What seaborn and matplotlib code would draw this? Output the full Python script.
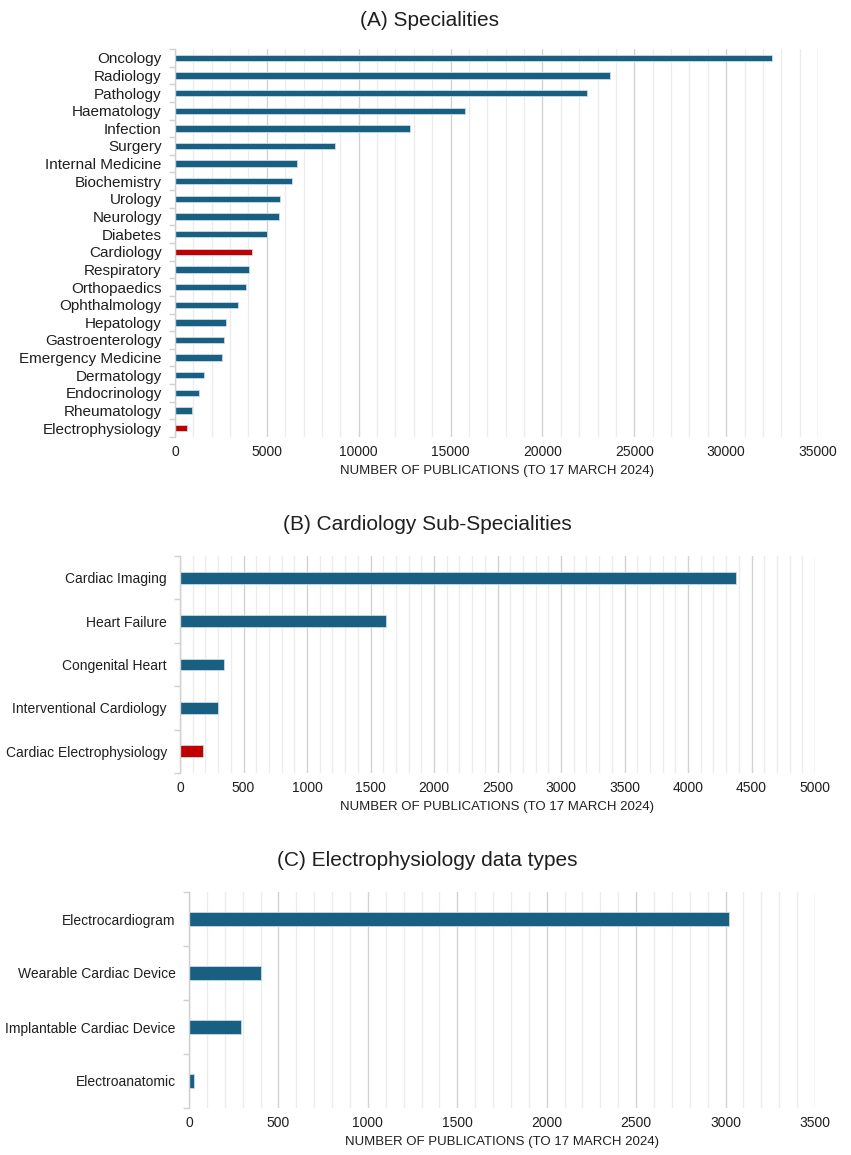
import matplotlib
matplotlib.use("Agg")
import matplotlib.pyplot as plt
import seaborn as sns
import pandas as pd
from matplotlib.ticker import MultipleLocator, FixedLocator

# ---------------- data ----------------
spec_names = ["Oncology", "Radiology", "Pathology", "Haematology", "Infection", "Surgery",
              "Internal Medicine", "Biochemistry", "Urology", "Neurology", "Diabetes",
              "Cardiology", "Respiratory", "Orthopaedics", "Ophthalmology", "Hepatology",
              "Gastroenterology", "Emergency Medicine", "Dermatology", "Endocrinology",
              "Rheumatology", "Electrophysiology"]
spec_values = [32500, 23700, 22400, 15800, 12800, 8700, 6650, 6350, 5740, 5670, 5020,
               4180, 4050, 3850, 3420, 2760, 2650, 2560, 1560, 1330, 910, 670]
spec_highlight = ["Cardiology", "Electrophysiology"]

sub_names = ["Cardiac Imaging", "Heart Failure", "Congenital Heart",
             "Interventional Cardiology", "Cardiac Electrophysiology"]
sub_values = [4380, 1620, 345, 297, 181]
sub_highlight = ["Cardiac Electrophysiology"]

ep_names = ["Electrocardiogram", "Wearable Cardiac Device", "Implantable Cardiac Device",
            "Electroanatomic"]
ep_values = [3020, 405, 293, 30]
ep_highlight = []

titles = ["(A) Specialities", "(B) Cardiology Sub-Specialities", "(C) Electrophysiology data types"]
xlabel = "NUMBER OF PUBLICATIONS (TO 17 MARCH 2024)"

BLUE = "#185f81"
RED = "#c00000"
TXT = "#1f1f1f"

sns.set_theme(style="white")
plt.rcParams["font.family"] = ["Liberation Sans", "DejaVu Sans"]

W, H = 851, 1155
fig = plt.figure(figsize=(W / 100, H / 100), dpi=100)


def px_axes(l, t, r, b):
    return fig.add_axes([l / W, 1 - b / H, (r - l) / W, (b - t) / H])


def panel(ax, names, values, red, xmax, major, minor, bar_w, label_fs):
    df = pd.DataFrame({"name": names, "value": values})
    pal = {n: (RED if n in red else BLUE) for n in names}
    sns.barplot(data=df, y="name", x="value", hue="name", palette=pal, legend=False,
                orient="h", width=bar_w, ax=ax, edgecolor="#c9dbe6", linewidth=0.6,
                saturation=1)
    n = len(names)
    ax.set_xlim(0, xmax)
    ax.set_ylim(n - 0.5, -0.5)
    ax.xaxis.set_major_locator(MultipleLocator(major))
    ax.xaxis.set_minor_locator(MultipleLocator(minor))
    ax.grid(axis="x", which="major", color="#d2d2d2", lw=1.0)
    ax.grid(axis="x", which="minor", color="#ececec", lw=1.0)
    ax.grid(axis="y", visible=False)
    ax.set_axisbelow(True)
    ax.yaxis.set_minor_locator(FixedLocator([i - 0.5 for i in range(n + 1)]))
    ax.tick_params(axis="y", which="minor", length=4, width=1, color="#d0d0d0", left=True)
    ax.tick_params(axis="y", which="major", length=0, pad=9.5, labelsize=label_fs,
                   labelcolor=TXT)
    ax.tick_params(axis="x", which="both", length=0, pad=6, labelsize=10, labelcolor=TXT)
    for s in ["top", "right", "bottom"]:
        ax.spines[s].set_visible(False)
    ax.spines["left"].set_color("#d0d0d0")
    ax.spines["left"].set_linewidth(1.0)
    ax.set_ylabel("")
    ax.set_xlabel(xlabel, fontsize=9.5, color=TXT, labelpad=4)


axA = px_axes(175, 49, 818, 437)
panel(axA, spec_names, spec_values, spec_highlight, 35000, 5000, 1000, 0.36, 11)
axB = px_axes(180, 556, 815, 773)
panel(axB, sub_names, sub_values, sub_highlight, 5000, 500, 100, 0.27, 10)
axC = px_axes(189, 892, 815, 1108)
panel(axC, ep_names, ep_values, ep_highlight, 3500, 500, 100, 0.27, 10)

fig.text(430 / W, 1 - 21 / H, titles[0], ha="center", va="center", fontsize=15, color=TXT)
fig.text(427 / W, 1 - 524 / H, titles[1], ha="center", va="center", fontsize=15, color=TXT)
fig.text(427 / W, 1 - 860 / H, titles[2], ha="center", va="center", fontsize=15, color=TXT)

fig.savefig("out.png", dpi=100, facecolor="white")
